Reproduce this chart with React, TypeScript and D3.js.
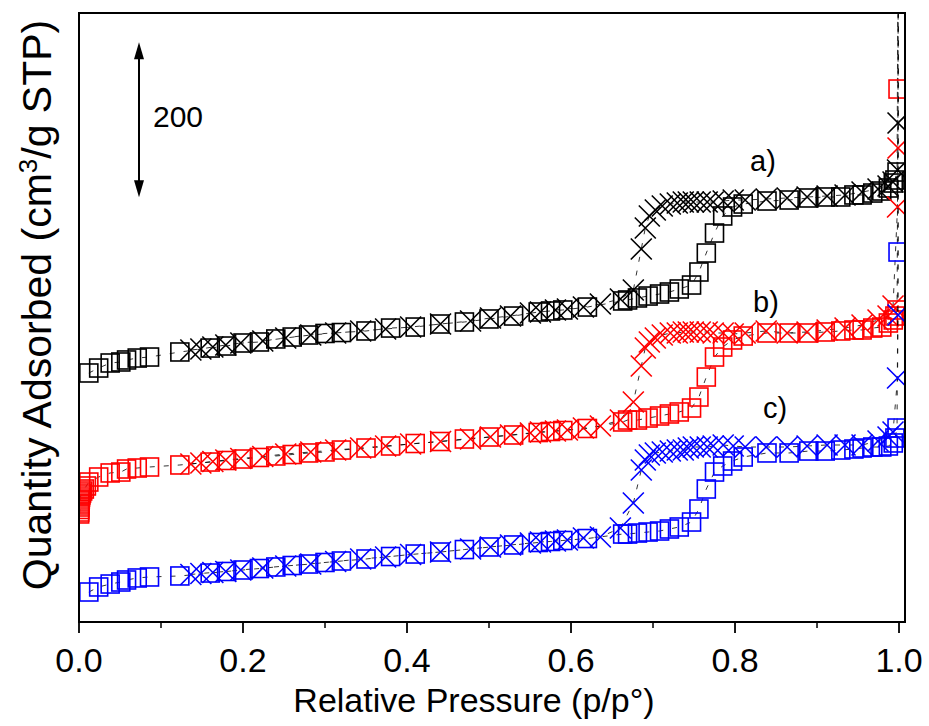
import React from "react";
import * as d3 from "d3";

// Relative pressure grids (shared by the three isotherms)
const adsP = [0.012,0.024,0.038,0.051,0.058,0.071,0.086,0.123,0.16,0.18,0.2,0.22,0.24,0.26,0.28,0.3,0.32,0.35,0.38,0.41,0.44,0.47,0.5,0.53,0.56,0.575,0.59,0.62,0.663,0.669,0.681,0.694,0.708,0.72,0.732,0.747,0.756,0.765,0.775,0.785,0.797,0.81,0.839,0.866,0.89,0.91,0.929,0.945,0.955,0.968,0.979,0.987,0.993,0.995,0.9976,0.9988];
const desP = [0.9995,0.9988,0.9982,0.9927,0.9866,0.9744,0.9549,0.9342,0.9123,0.8879,0.8636,0.838,0.8124,0.7978,0.7856,0.7734,0.7661,0.7576,0.7491,0.743,0.7369,0.7296,0.7211,0.7113,0.7028,0.6955,0.6906,0.6857,0.676,0.6602,0.6358,0.6151,0.5956,0.581,0.5627,0.5505,0.5262,0.5018,0.4775,0.4409,0.4044,0.3739,0.3435,0.313,0.2826,0.2521,0.2241,0.1973,0.179,0.1632,0.1486,0.1364];

// a) black
const adsA = [81.3,87.7,94.2,95.5,98.1,100.6,101.9,108.4,113.5,116.1,120.0,121.3,125.2,127.7,130.3,132.3,133.5,135.5,139.3,140.6,144.5,147.1,151.0,154.8,160.0,161.3,162.6,166.4,174.2,175.5,178.1,180.6,183.2,185.8,189.7,194.8,211.6,236.1,261.9,283.9,295.5,299.3,303.2,304.5,307.1,308.4,308.4,311.0,311.0,313.5,316.1,320.0,326.4,330.3,340.6,640.0];
const desA = [1078.7,403.9,343.2,327.7,322.6,318.7,314.8,311.0,309.7,308.4,307.1,305.8,304.5,304.5,303.2,301.9,301.9,301.9,301.9,301.9,301.9,300.6,299.3,296.8,291.6,283.9,268.4,241.3,188.4,176.8,170.3,166.4,163.9,162.6,160.0,158.7,154.8,152.3,148.4,144.5,140.6,138.1,135.5,132.9,130.3,126.5,122.6,120.0,117.4,114.8,112.3,111.0];

// b) red (with extra low-pressure points)
const lowPB = [0.0008,0.0009,0.001,0.0011,0.0012,0.0013,0.0014,0.0016,0.0019,0.0024,0.0032,0.0045,0.0065,0.009];
const lowB = [19.4,21.9,25.2,28.4,31.0,33.5,36.1,38.7,41.3,43.9,46.4,49.0,51.6,55.5];
const adsB = [60.6,67.1,72.3,73.5,77.4,78.7,80.0,82.6,86.4,88.4,90.3,92.3,94.2,96.1,98.1,99.4,101.9,104.5,107.1,110.3,112.9,116.1,118.7,121.3,124.5,125.8,127.1,129.7,138.1,140.6,140.6,143.2,145.8,148.4,151.0,156.1,170.3,196.1,221.9,234.8,243.9,249.0,252.9,252.9,252.9,254.2,255.5,256.8,256.8,259.3,260.6,265.8,269.7,274.8,282.6,567.7];
const desB = [1134.2,491.6,415.5,287.7,274.8,269.7,263.2,259.3,256.8,254.2,252.9,255.5,252.9,251.6,252.9,252.9,254.2,254.2,254.2,254.2,254.2,252.9,252.9,250.3,246.5,241.3,233.5,210.3,163.9,140.6,132.9,130.3,127.7,126.4,125.2,123.9,121.3,118.7,116.1,112.9,109.7,107.1,104.5,101.9,99.4,96.8,93.5,91.0,89.0,87.1,85.2,83.9];

// c) blue
const adsC = [38.7,45.2,49.0,51.6,54.2,56.8,58.1,59.4,63.2,65.2,67.1,69.0,71.0,72.9,74.8,76.8,78.7,81.3,84.5,87.7,90.3,93.5,96.8,99.4,102.6,103.9,105.2,107.7,113.5,113.5,114.8,116.1,117.4,120.0,122.6,129.0,145.8,171.6,193.5,201.3,207.7,212.9,218.1,218.1,220.6,220.6,221.9,223.2,224.5,225.8,225.8,227.1,231.0,237.4,250.3,477.4];
const desC = [1189.7,396.1,314.8,245.2,238.7,233.5,228.4,228.4,228.4,227.1,225.8,225.8,225.8,227.1,228.4,227.1,225.8,225.8,225.8,224.5,221.9,221.9,220.6,219.4,218.1,215.5,209.0,196.1,153.5,121.3,109.7,108.4,105.8,104.5,103.2,101.9,99.4,96.8,94.2,90.3,87.1,83.9,81.3,78.1,74.8,72.3,69.7,67.1,65.2,63.9,62.6,61.3];

const seriesNames = ["a)", "b)", "c)"];
const seriesColors = ["#000000", "#ff0000", "#0000ff"];
const seriesOffsets = [240, 120, 0];
const xTicks = [0, 0.2, 0.4, 0.6, 0.8, 1.0];
const xMinorTicks = [0.1, 0.3, 0.5, 0.7, 0.9];
const scaleBarBase = 548;
const scaleBarValue = 200;

type Pt = [number, number];
const zip = (p: number[], v: number[], off: number): Pt[] => p.map((pp, i) => [pp, v[i] + off]);

export default function App() {
  const W = 929, H = 726;
  const left = 79, right = 905, top = 13, bottom = 622;
  const x = d3.scaleLinear().domain([0, 1.0073]).range([left, right]);
  const y = d3.scaleLinear().domain([0, 785.8]).range([bottom, top]);

  const series = [
    { ads: zip(adsP, adsA, seriesOffsets[0]), des: zip(desP, desA, seriesOffsets[0]) },
    { ads: zip(lowPB.concat(adsP), lowB.concat(adsB), seriesOffsets[1]), des: zip(desP, desB, seriesOffsets[1]) },
    { ads: zip(adsP, adsC, seriesOffsets[2]), des: zip(desP, desC, seriesOffsets[2]) },
  ];
  const line = d3.line<Pt>().x(d => x(d[0])).y(d => y(d[1]));
  const font = "'Liberation Sans', Arial, Helvetica, sans-serif";
  const sq = 18, cr = 10.5;
  const labelPos = [[750, 171], [753, 312], [763, 418]];

  return (
    <svg width={W} height={H} style={{ position: "absolute", left: 0, top: 0, background: "#fff" }} fontFamily={font}>
      <defs>
        <clipPath id="plotclip">
          <rect x={left} y={top} width={right - left} height={bottom - top} />
        </clipPath>
      </defs>
      <rect x={0} y={0} width={W} height={H} fill="#fff" />
      <g clipPath="url(#plotclip)">
        {series.map((s, i) => (
          <g key={i}>
            <path d={line(s.ads.concat(s.des)) || ""} fill="none" stroke="#000" strokeWidth={0.8} strokeDasharray="5 9" />
            {s.ads.map((d, j) => (
              <rect key={"a" + j} x={x(d[0]) - sq / 2} y={y(d[1]) - sq / 2} width={sq} height={sq} fill="none" stroke={seriesColors[i]} strokeWidth={1.6} />
            ))}
            {s.des.map((d, j) => (
              <path key={"d" + j} transform={`translate(${x(d[0])},${y(d[1])})`} d={`M${-cr},${-cr}L${cr},${cr}M${-cr},${cr}L${cr},${-cr}`} fill="none" stroke={seriesColors[i]} strokeWidth={1.6} />
            ))}
          </g>
        ))}
      </g>
      {/* frame */}
      <rect x={left} y={top} width={right - left} height={bottom - top} fill="none" stroke="#000" strokeWidth={2} />
      {xTicks.map(t => (
        <g key={"t" + t}>
          <line x1={x(t)} x2={x(t)} y1={bottom} y2={bottom + 11} stroke="#000" strokeWidth={1.8} />
          <text x={x(t)} y={672} fontSize={34} textAnchor="middle">{t.toFixed(1)}</text>
        </g>
      ))}
      {xMinorTicks.map(t => (
        <line key={"m" + t} x1={x(t)} x2={x(t)} y1={bottom} y2={bottom + 6} stroke="#000" strokeWidth={1.5} />
      ))}
      <text x={474} y={712} fontSize={34} textAnchor="middle">Relative Pressure (p/p°)</text>
      <text transform="translate(51,305) rotate(-90)" fontSize={41} textAnchor="middle">
        Quantity Adsorbed (cm<tspan dy={-14} fontSize={26}>3</tspan><tspan dy={14}>/g STP)</tspan>
      </text>
      {/* scale bar */}
      <line x1={139} x2={139} y1={y(scaleBarBase) - 14} y2={y(scaleBarBase + scaleBarValue) + 14} stroke="#000" strokeWidth={2} />
      <path d={`M139,${y(scaleBarBase + scaleBarValue)} l-5,17 l10,0 Z`} fill="#000" />
      <path d={`M139,${y(scaleBarBase)} l-5,-17 l10,0 Z`} fill="#000" />
      <text x={153} y={127} fontSize={30}>{scaleBarValue}</text>
      {seriesNames.map((n, i) => (
        <text key={n} x={labelPos[i][0]} y={labelPos[i][1]} fontSize={29}>{n}</text>
      ))}
    </svg>
  );
}
